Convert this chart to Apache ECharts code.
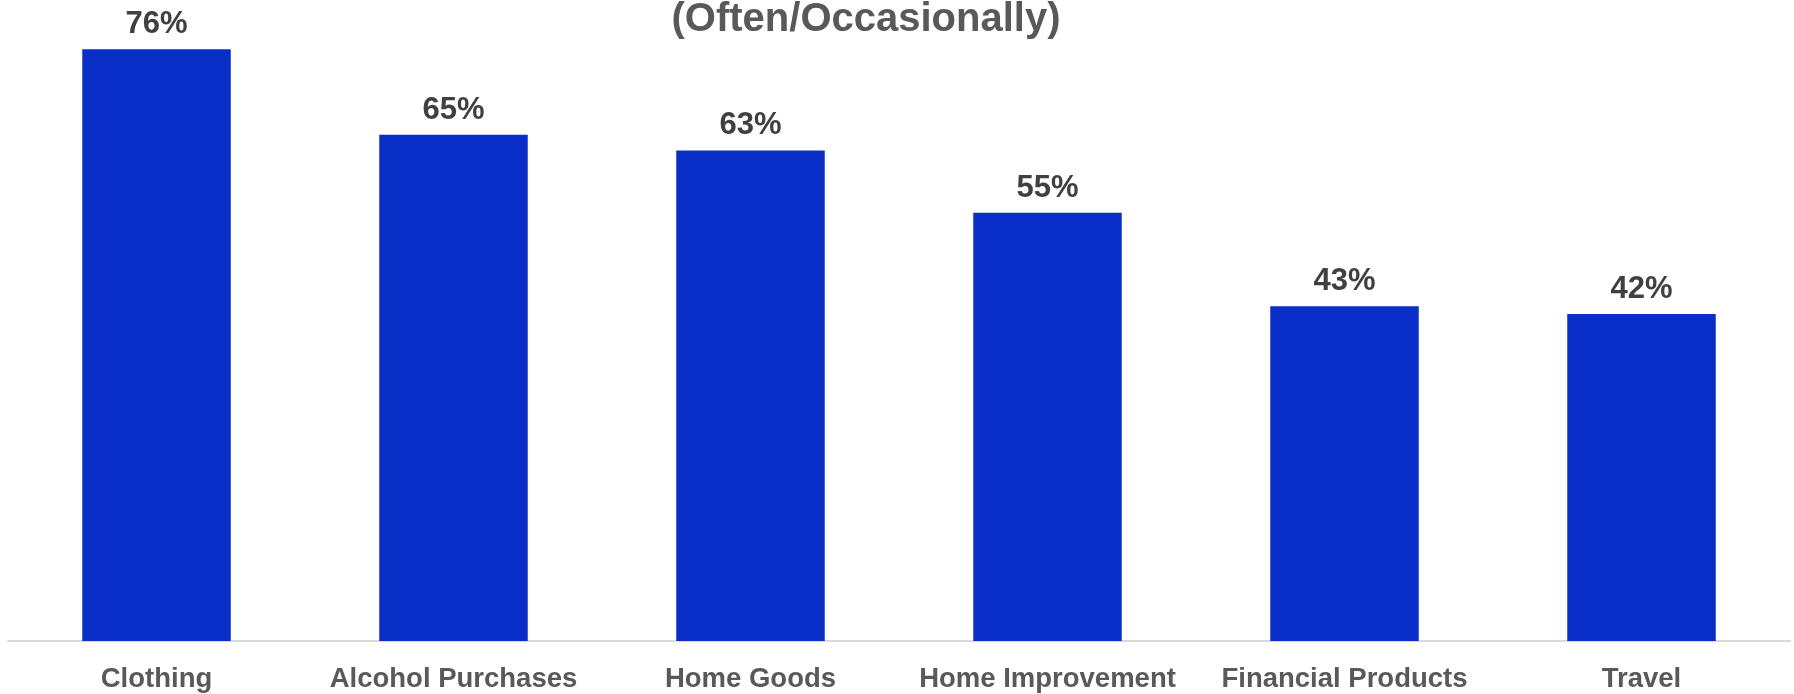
<!DOCTYPE html>
<html>
<head>
<meta charset="utf-8">
<script src="https://cdn.jsdelivr.net/npm/echarts@6/dist/echarts.min.js"></script>
<style>
    html, body { margin: 0; padding: 0; background: #fff; }
    #chart { width: 1794px; height: 694px; }
</style>
</head>
<body>
<div id="chart"></div>
<script>
// 数据
var categories = ["Clothing", "Alcohol Purchases", "Home Goods", "Home Improvement", "Financial Products", "Travel"];
var shares = [76, 65, 63, 55, 43, 42];
var titleText = "(Often/Occasionally)";

(function() {
    var chart = echarts.init(document.getElementById("chart"), null, { renderer: "canvas" });
    var font = "'Liberation Sans', Arial, sans-serif";

    var option = {
        animation: false,
        title: {
            text: titleText,
            left: 861,
            textAlign: "center",
            top: -5,
            textStyle: {
                fontFamily: font,
                fontSize: 40,
                fontWeight: "bold",
                color: "#595959"
            }
        },
        grid: {
            left: 8,
            right: 4,
            top: 18,
            bottom: 53,
            containLabel: false
        },
        xAxis: {
            type: "category",
            data: categories,
            axisLine: {
                lineStyle: { color: "#d9d9d9", width: 2 }
            },
            axisTick: { show: false },
            axisLabel: {
                interval: 0,
                margin: 24,
                fontFamily: font,
                fontSize: 27.5,
                fontWeight: "bold",
                color: "#595959"
            }
        },
        yAxis: {
            type: "value",
            min: 0,
            max: 80,
            show: false,
            splitLine: { show: false }
        },
        series: [{
            type: "bar",
            data: shares,
            barWidth: "50%",
            itemStyle: { color: "#0A2EC8" },
            label: {
                show: true,
                position: "top",
                distance: 9,
                formatter: "{c}%",
                fontFamily: font,
                fontSize: 31,
                fontWeight: "bold",
                color: "#404040"
            }
        }]
    };

    chart.setOption(option);
}());
</script>
</body>
</html>
